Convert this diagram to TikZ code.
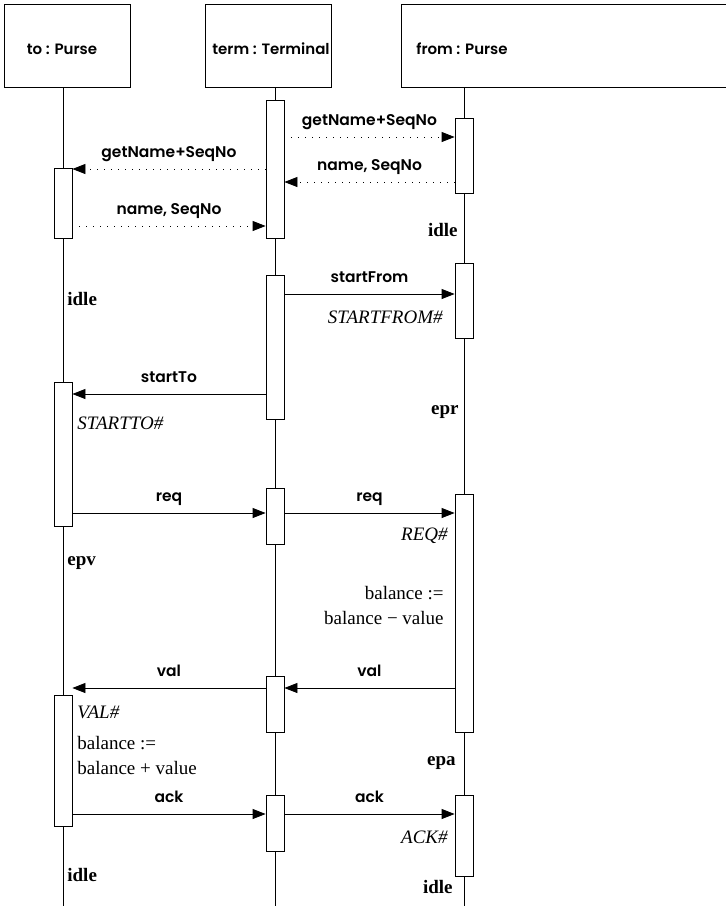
\documentclass[tikz,border=0pt]{standalone}
\usepackage{fontspec}
\setmainfont{Liberation Serif}
\newfontfamily\msgfont{Poppins}[UprightFont={* SemiBold}]
\usetikzlibrary{arrows.meta}

\begin{document}
\begin{tikzpicture}[x=1pt,y=-1pt,line width=0.8pt,
	obj/.style={draw,line width=1pt,minimum width=126pt,minimum height=83pt,inner sep=0pt},
	objname/.style={font=\msgfont\fontsize{15}{17}\selectfont,inner sep=0pt},
	act/.style={draw,fill=white,minimum width=18pt,inner sep=0pt},
	msg/.style={-{Triangle[length=13pt,width=10pt]}},
	ret/.style={msg,dash pattern=on 1pt off 6pt},
	lbl/.style={font=\msgfont\fontsize{15.5}{18}\selectfont,inner sep=0pt,anchor=base,yshift=12pt},
	st/.style={font=\fontsize{19}{21}\selectfont\bfseries,inner sep=0pt},
	note/.style={font=\fontsize{19}{25}\selectfont,inner sep=0pt}]
\useasboundingbox (0,0) rectangle (726,906);
\node[obj] (to) at (67.5,46) {};
\node[obj] (term) at (268,46) {};
\node[obj,minimum width=330pt,anchor=west] (from) at (401,46) {};
\node[objname] (toname) at (62,49) {to : Purse};
\node[objname] (termname) at (271,49) {term : Terminal};
\node[objname] (fromname) at (462,49) {from : Purse};
\foreach \p/\x in {to/63,term/275,from/464}
	\draw (\p.south -| \x,0) -- (\x,906);
\node[act,minimum height=70pt] (a1) at (63,203) {};
\node[act,minimum height=144pt] (a2) at (63,454) {};
\node[act,minimum height=131pt] (a3) at (63,760.5) {};
\node[act,minimum height=138pt] (m1) at (275,169) {};
\node[act,minimum height=144pt] (m2) at (275,347) {};
\node[act,minimum height=56pt] (m3) at (275,516) {};
\node[act,minimum height=56pt] (m4) at (275,704) {};
\node[act,minimum height=56pt] (m5) at (275,823) {};
\node[act,minimum height=75pt] (r1) at (464,155.5) {};
\node[act,minimum height=75pt] (r2) at (464,300.5) {};
\node[act,minimum height=238pt] (r3) at (464,613) {};
\node[act,minimum height=81pt] (r4) at (464,835.5) {};
\draw[ret] (m1.east |- 0,137) -- (r1.west |- 0,137) node[lbl,midway] {getName+SeqNo};
\draw[ret] (r1.west |- 0,182) -- (m1.east |- 0,182) node[lbl,midway] {name, SeqNo};
\draw[ret] (m1.west |- 0,169) -- (a1.east |- 0,169) node[lbl,midway] {getName+SeqNo};
\draw[ret] (a1.east |- 0,226) -- (m1.west |- 0,226) node[lbl,midway] {name, SeqNo};
\draw[msg] (m2.east |- 0,294) -- (r2.west |- 0,294) node[lbl,midway] {startFrom};
\draw[msg] (m2.west |- 0,394) -- (a2.east |- 0,394) node[lbl,midway] {startTo};
\draw[msg] (a2.east |- 0,513) -- (m3.west |- 0,513) node[lbl,midway] {req};
\draw[msg] (m3.east |- 0,513) -- (r3.west |- 0,513) node[lbl,midway] {req};
\draw[msg] (r3.west |- 0,688) -- (m4.east |- 0,688) node[lbl,midway] {val};
\draw[msg] (m4.west |- 0,688) -- (a3.east |- 0,688) node[lbl,midway] {val};
\draw[msg] (a3.east |- 0,814) -- (m5.west |- 0,814) node[lbl,midway] {ack};
\draw[msg] (m5.east |- 0,814) -- (r4.west |- 0,814) node[lbl,midway] {ack};
\node[note,anchor=east] (sfrom) at (443,317) {\itshape STARTFROM\#};
\node[note,anchor=west] (sto) at (77,423) {\itshape STARTTO\#};
\node[note,anchor=east] (rq) at (448,536) {\itshape REQ\#};
\node[note,anchor=east,align=right] (dec) at (444,605.5) {balance :=\\balance − value};
\node[note,anchor=west] (vl) at (77,712) {\itshape VAL\#};
\node[note,anchor=west,align=left] (inc) at (77,755.5) {balance :=\\balance + value};
\node[note,anchor=east] (ak) at (448,837) {\itshape ACK\#};
\node[st,anchor=east] (s1) at (458,230) {idle};
\node[st,anchor=west] (s2) at (67,299) {idle};
\node[st,anchor=east] (s3) at (459,412) {epr};
\node[st,anchor=west] (s4) at (67,563) {epv};
\node[st,anchor=east] (s5) at (456,763) {epa};
\node[st,anchor=west] (s6) at (67,875) {idle};
\node[st,anchor=east] (s7) at (453,887) {idle};
\end{tikzpicture}
\end{document}
